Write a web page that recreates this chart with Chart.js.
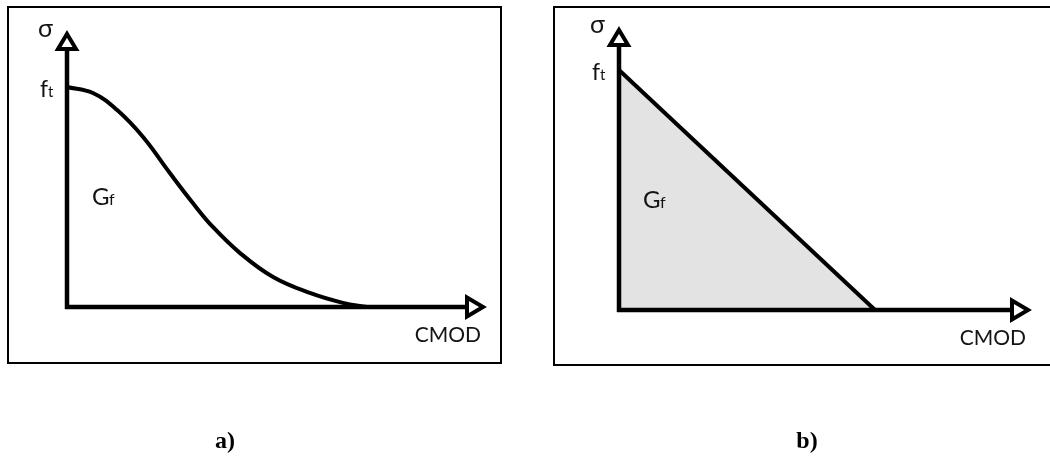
<!DOCTYPE html>
<html>
<head>
<meta charset="utf-8">
<script src="https://cdn.jsdelivr.net/npm/chart.js@4/dist/chart.umd.min.js"></script>
<style>
  html, body { margin: 0; padding: 0; background: #fff; }
  #wrap { position: relative; width: 1050px; height: 459px; overflow: hidden; }
  canvas { position: absolute; top: 0; }
  #chartA { left: 0; }
  #chartB { left: 525px; }
</style>
</head>
<body>
<div id="wrap">
  <canvas id="chartA" width="525" height="459"></canvas>
  <canvas id="chartB" width="525" height="459"></canvas>
</div>
<script>
// softening curve (a): smooth decay of stress with crack opening
const cmodA = [0, 0.62, 1.20, 1.82, 2.46, 3.01, 3.49, 4.14, 4.93, 5.81, 6.60, 7.18];
const sigmaA = [8.0, 7.78, 7.16, 6.18, 4.87, 3.78, 2.91, 1.96, 1.09, 0.51, 0.15, 0];

// softening curve (b): linear, area under it shaded
const cmodB = [0, 6.23];
const sigmaB = [8.51, 0];

const axisMax = 10;
const ink = '#000';
const textInk = '#141414';
const labelFont = '"Lato", "Open Sans", sans-serif';

// arrow-headed axes, box frame and the symbol labels
function panelDeco(opts) {
  return {
    id: 'panelDeco',
    beforeDraw(chart) {
      const ctx = chart.ctx;
      ctx.save();
      ctx.strokeStyle = ink;
      ctx.lineWidth = 2;
      ctx.strokeRect(opts.box[0], opts.box[1], opts.box[2], opts.box[3]);
      ctx.restore();
    },
    afterDatasetsDraw(chart) {
      const ctx = chart.ctx;
      const x = chart.scales.x, y = chart.scales.y;
      const x0 = x.getPixelForValue(0), y0 = y.getPixelForValue(0);
      const xEnd = x.getPixelForValue(axisMax), yEnd = y.getPixelForValue(axisMax);
      ctx.save();
      ctx.strokeStyle = ink;
      ctx.lineWidth = 4.5;
      ctx.lineJoin = 'miter';
      ctx.beginPath();
      ctx.moveTo(x0, y0 + 2);
      ctx.lineTo(x0, yEnd + 16);
      ctx.moveTo(x0 - 2, y0);
      ctx.lineTo(xEnd - 18, y0);
      ctx.stroke();
      // open triangle heads
      ctx.fillStyle = '#fff';
      ctx.lineWidth = 4;
      ctx.beginPath();
      ctx.moveTo(x0, yEnd + 2);
      ctx.lineTo(x0 + 9, yEnd + 17);
      ctx.lineTo(x0 - 9, yEnd + 17);
      ctx.closePath();
      ctx.fill(); ctx.stroke();
      ctx.beginPath();
      ctx.moveTo(xEnd - 2, y0);
      ctx.lineTo(xEnd - 18, y0 - 9.5);
      ctx.lineTo(xEnd - 18, y0 + 9.5);
      ctx.closePath();
      ctx.fill(); ctx.stroke();

      ctx.fillStyle = textInk;
      ctx.textBaseline = 'alphabetic';
      ctx.textAlign = 'left';
      ctx.font = '25px ' + labelFont;
      ctx.fillText('σ', x0 - 29, yEnd + 5);
      const ftY = y.getPixelForValue(opts.ft);
      ctx.font = '23px ' + labelFont;
      ctx.fillText('f', x0 - 27, ftY + 10);
      ctx.font = '15px ' + labelFont;
      ctx.fillText('t', x0 - 19, ftY + 10);
      ctx.font = '24px ' + labelFont;
      ctx.fillText('G', x0 + opts.gf[0], y.getPixelForValue(opts.gf[1]));
      ctx.font = '16px ' + labelFont;
      ctx.fillText('f', x0 + opts.gf[0] + 17, y.getPixelForValue(opts.gf[1]));
      ctx.font = '21px ' + labelFont;
      ctx.textAlign = 'right';
      ctx.fillText('CMOD', xEnd - 4, y0 + 35);

      ctx.font = 'bold 24px "Liberation Serif", serif';
      ctx.textAlign = 'center';
      ctx.fillStyle = '#000';
      ctx.fillText(opts.caption, opts.captionX, 448);
      ctx.restore();
    }
  };
}

function makePanel(id, xs, ys, fillColor, pad, deco) {
  const pts = xs.map((v, i) => ({ x: v, y: ys[i] }));
  return new Chart(document.getElementById(id), {
    type: 'line',
    data: {
      datasets: [{
        data: pts,
        borderColor: ink,
        borderWidth: 4,
        pointRadius: 0,
        tension: 0.4,
        fill: fillColor ? 'origin' : false,
        backgroundColor: fillColor || 'transparent',
        clip: false
      }]
    },
    options: {
      responsive: false,
      animation: false,
      devicePixelRatio: 1,
      layout: { padding: pad },
      plugins: { legend: { display: false }, tooltip: { enabled: false } },
      scales: {
        x: { type: 'linear', min: 0, max: axisMax, display: false },
        y: { type: 'linear', min: 0, max: axisMax, display: false }
      }
    },
    plugins: [panelDeco(deco)]
  });
}

makePanel('chartA', cmodA, sigmaA, null,
  { left: 67, top: 32, right: 40, bottom: 152 },
  { box: [8, 7, 493, 356], ft: sigmaA[0], gf: [25, 3.7], caption: 'a)', captionX: 225 });

makePanel('chartB', cmodB, sigmaB, '#e3e3e3',
  { left: 94, top: 28, right: 20, bottom: 149 },
  { box: [29, 7, 520, 358], ft: sigmaB[0], gf: [24, 3.6], caption: 'b)', captionX: 282 });
</script>
</body>
</html>
